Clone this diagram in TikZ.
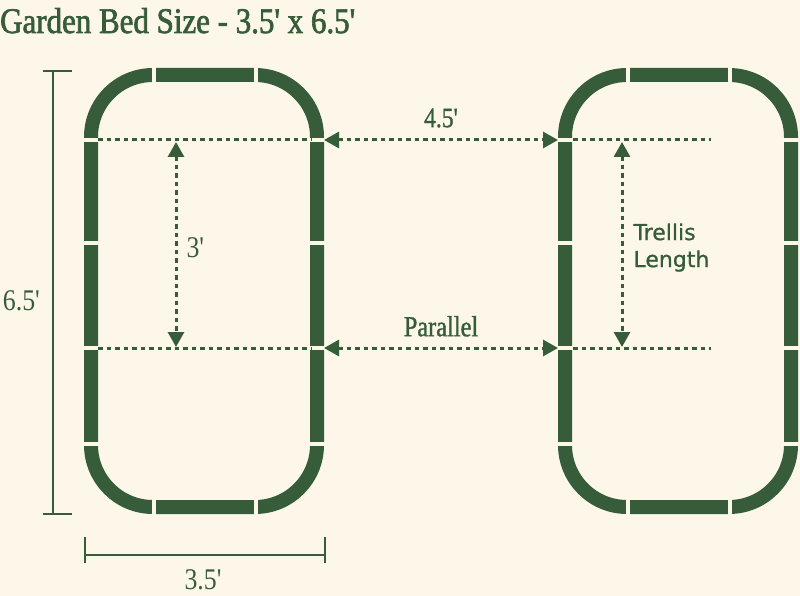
\documentclass[tikz,border=0pt]{standalone}
\usepackage{fontspec}
\usetikzlibrary{positioning}
\usetikzlibrary{arrows.meta}
\newfontfamily\headfont[FakeStretch=0.86,FakeBold=1.8]{Liberation Serif}
\newfontfamily\dimfont[FakeStretch=0.86]{Liberation Serif}
\newfontfamily\noteserif[FakeStretch=0.84,FakeBold=1.2]{Liberation Serif}
\newfontfamily\notesans[FakeBold=0.8]{DejaVu Sans}
\definecolor{bedgreen}{HTML}{365C3A}
\definecolor{cream}{HTML}{FDF7EA}
\tikzset{
  bedwall/.style={draw=bedgreen,line width=14pt,rounded corners=62pt},
  joint/.style={draw=cream,line width=4pt},
  guide/.style={draw=bedgreen,line width=3pt,dash pattern=on 4.5pt off 4pt},
  spacing/.style={guide,{Triangle[length=15pt,width=16pt]}-{Triangle[length=15pt,width=16pt]}},
  dimline/.style={draw=bedgreen,line width=2.5pt},
  lbl/.style={text=bedgreen,inner sep=0pt},
}

\begin{document}
\begin{tikzpicture}[x=1pt,y=-1pt]
    \fill[cream] (0,0) rectangle (800,596);
    \useasboundingbox (0,0) rectangle (800,596);

    \node (title) [lbl,anchor=base west] at (0,33)
        {\headfont\fontsize{36}{38}\selectfont Garden Bed Size - 3.5' x 6.5'};

    % beds
    \draw[bedwall] (91,75) rectangle (317,507);
    \draw[bedwall] (565,75) rectangle (791,507);

    % board joints
    \foreach \bx in {84,558}{
        \foreach \gy in {140,243,348,444}{
            \draw[joint] (\bx-2,\gy) -- ++(18,0);
            \draw[joint] (\bx+224,\gy) -- ++(18,0);
        }
        \foreach \gx in {70,172}{
            \draw[joint] (\bx+\gx,65) -- ++(0,20);
            \draw[joint] (\bx+\gx,497) -- ++(0,20);
        }
    }

    \coordinate (aTL) at (98,140);
    \coordinate (aTR) at (311,140);
    \coordinate (aBL) at (98,348);
    \coordinate (aBR) at (311,348);
    \coordinate (bTL) at (573,140);
    \coordinate (bTR) at (711,140);
    \coordinate (bBL) at (573,348);
    \coordinate (bBR) at (711,348);
    \coordinate (aWallT) at (324,140);
    \coordinate (bWallT) at (558,140);
    \coordinate (aWallB) at (324,348);
    \coordinate (bWallB) at (558,348);
    \coordinate (aMidT) at (176,142);
    \coordinate (aMidB) at (176,347);
    \coordinate (bMidT) at (622,142);
    \coordinate (bMidB) at (622,347);

    \draw[guide] (aTL) -- (aTR);
    \draw[guide] (aBL) -- (aBR);
    \draw[guide] (bTL) -- (bTR);
    \draw[guide] (bBL) -- (bBR);

    \draw[spacing] (aWallT) -- node (gap) [lbl,above=11pt]
        {\noteserif\fontsize{28}{30}\selectfont 4.5'} (bWallT);
    \draw[spacing] (aWallB) -- node (par) [lbl,above=10pt]
        {\noteserif\fontsize{29}{30}\selectfont Parallel} (bWallB);
    \draw[spacing] (aMidT) -- node (row) [lbl,right=9pt,yshift=-3pt]
        {\dimfont\fontsize{30}{32}\selectfont 3'} (aMidB);
    \draw[spacing] (bMidT) -- node (trl) [lbl,right=10pt,yshift=-3pt,align=left,
        font=\notesans\fontsize{22}{27}\selectfont] {Trellis\\Length} (bMidB);

    % overall size
    \coordinate (hTop) at (53,71);
    \coordinate (hBot) at (53,514);
    \draw[dimline] (hTop) -- (hBot);
    \draw[dimline] ([xshift=-10pt]hTop) -- ([xshift=19pt]hTop);
    \draw[dimline] ([xshift=-10pt]hBot) -- ([xshift=19pt]hBot);
    \node (hLbl) [lbl,anchor=east] at (40,301)
        {\dimfont\fontsize{30}{32}\selectfont 6.5'};

    \coordinate (wL) at (85,555);
    \coordinate (wR) at (325,555);
    \draw[dimline] (wL) -- (wR);
    \draw[dimline] ([yshift=18pt]wL) -- ([yshift=-8pt]wL);
    \draw[dimline] ([yshift=18pt]wR) -- ([yshift=-8pt]wR);
    \node (wLbl) [lbl] at (203,580)
        {\dimfont\fontsize{30}{32}\selectfont 3.5'};
\end{tikzpicture}
\end{document}
